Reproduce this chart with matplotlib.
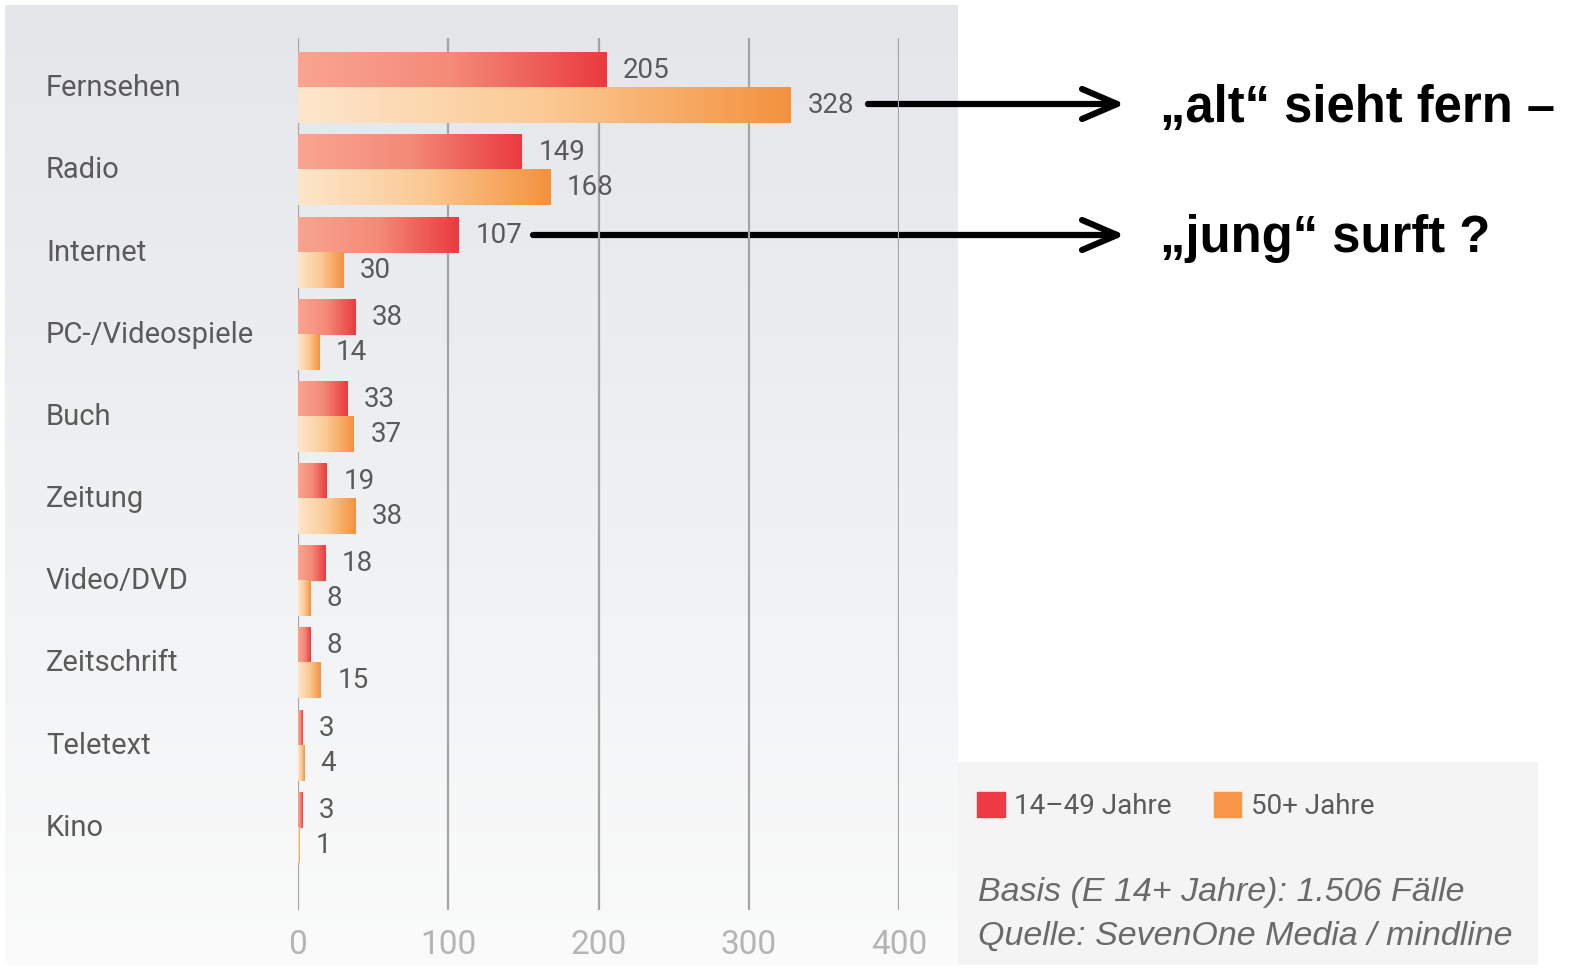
import numpy as np
import matplotlib.pyplot as plt
import matplotlib.transforms as mtransforms
from matplotlib.colors import LinearSegmentedColormap
from matplotlib.patches import Rectangle, Patch

plt.rcParams['font.family'] = ['Roboto', 'DejaVu Sans']

# Daten
categories = ['Fernsehen', 'Radio', 'Internet', 'PC-/Videospiele', 'Buch',
              'Zeitung', 'Video/DVD', 'Zeitschrift', 'Teletext', 'Kino']
jung = [205, 149, 107, 38, 33, 19, 18, 8, 3, 3]
alt = [328, 168, 30, 14, 37, 38, 8, 15, 4, 1]
xticks = [0, 100, 200, 300, 400]
series_labels = ['14–49 Jahre', '50+ Jahre']
note_lines = ['Basis (E 14+ Jahre): 1.506 Fälle', 'Quelle: SevenOne Media / mindline']
callouts = ['„alt“ sieht fern –', '„jung“ surft ?']

W, H = 1571, 969
fig = plt.figure(figsize=(W / 100, H / 100), dpi=100)

# Hintergrund (Pixelkoordinaten)
bg = fig.add_axes([0, 0, 1, 1], zorder=0)
bg_cmap = LinearSegmentedColormap.from_list('bg', ['#e4e6ea', '#eef0f2', '#fbfbfb'])
bg.imshow(np.linspace(0, 1, 256).reshape(-1, 1), cmap=bg_cmap, aspect='auto',
          extent=(5, 958, 965, 5), interpolation='bilinear')
bg.add_patch(Rectangle((958, 762), 580, 203, color='#f4f4f4', lw=0))
bg.set_xlim(0, W)
bg.set_ylim(H, 0)
bg.axis('off')

# Diagramm
ax = fig.add_axes([298 / W, 1 - 910 / H, 601 / W, 872 / H], zorder=1)
ax.patch.set_alpha(0)

red_cmap = LinearSegmentedColormap.from_list('red', ['#f9a590', '#f48a78', '#ea3a40'])
orange_cmap = LinearSegmentedColormap.from_list('orange', ['#fee6cc', '#fbca94', '#f4913e'])
grad = np.linspace(0, 1, 256).reshape(1, -1)
bh = 0.426

for i, (j, a) in enumerate(zip(jung, alt)):
    ax.imshow(grad, cmap=red_cmap, aspect='auto', extent=(0, j, i, i - bh),
              interpolation='bilinear', zorder=2)
    ax.imshow(grad, cmap=orange_cmap, aspect='auto', extent=(0, a, i + bh, i),
              interpolation='bilinear', zorder=2)
    ax.annotate(str(j), xy=(j, i - bh / 2), xytext=(12, 0), textcoords='offset points',
                ha='left', va='center', fontsize=20, color='#5a5a5a')
    ax.annotate(str(a), xy=(a, i + bh / 2), xytext=(12, 0), textcoords='offset points',
                ha='left', va='center', fontsize=20, color='#5a5a5a')

for x in xticks:
    ax.axvline(x, color='#a4a4a4', lw=1.6, zorder=1)

ax.set_xlim(0, 400)
ax.set_ylim(10.0, -0.61)
ax.set_xticks(xticks)
ax.set_yticks([])
ax.tick_params(axis='x', length=0, pad=14, labelsize=24, labelcolor='#b4b4b4')
for s in ax.spines.values():
    s.set_visible(False)

trans = mtransforms.blended_transform_factory(fig.transFigure, ax.transData)
for i, cat in enumerate(categories):
    ax.text(46 / W, i, cat, transform=trans, ha='left', va='center',
            fontsize=21, color='#5a5a5a')

# Legende
handles = [Patch(color='#ee3a43'), Patch(color='#f79646')]
fig.legend(handles, series_labels, loc='center left', bbox_to_anchor=(977 / W, 1 - 806 / H),
           ncol=2, frameon=False, fontsize=20, handlelength=1.0, handleheight=1.0,
           handletextpad=0.35, columnspacing=1.5, borderpad=0, borderaxespad=0,
           labelcolor='#5a5a5a')

for k, line in enumerate(note_lines):
    bg.text(978, 892 + 44 * k, line, ha='left', va='center', fontsize=24.5,
            style='italic', color='#6a6a6a', family=['Liberation Sans', 'DejaVu Sans'])

# Pfeile und Kommentare
for y_txt, y_arr, x0, txt in [(108, 104, 868, callouts[0]), (238, 235, 533, callouts[1])]:
    bg.annotate('', xy=(1125, y_arr), xytext=(x0, y_arr),
                arrowprops=dict(arrowstyle='->,head_length=1.26,head_width=0.54',
                                mutation_scale=20, lw=4.5, color='black',
                                shrinkA=0, shrinkB=0))
    bg.text(1160, y_txt, txt, ha='left', va='center', fontsize=36.5, weight='bold',
            color='black', family=['Liberation Sans', 'DejaVu Sans'])

fig.savefig('out.png', dpi=100)
